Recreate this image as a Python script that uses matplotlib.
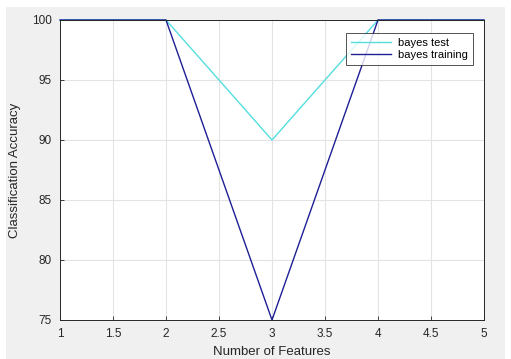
import numpy as np
import matplotlib.pyplot as plt
from matplotlib.patches import Rectangle

features = [1, 2, 3, 4, 5]
bayes_test = [100, 100, 90, 100, 100]
bayes_training = [100, 100, 75, 100, 100]

plt.rcParams['font.family'] = ['Liberation Sans', 'DejaVu Sans']

fig = plt.figure(figsize=(5.11, 3.59), dpi=100, facecolor='white')
# grey panel like the MATLAB figure window
fig.patches.append(Rectangle((6 / 511, 0), 499 / 511, 1 - 7 / 359,
                             transform=fig.transFigure, facecolor='#f0f0f0',
                             edgecolor='none', zorder=-10))
ax = fig.add_axes([60 / 511, 1 - 320 / 359, 424 / 511, 300 / 359])

ax.plot(features, bayes_test, color='#55dede', lw=1.0, label='bayes test', clip_on=False)
ax.plot(features, bayes_training, color='#1f1f96', lw=1.0, label='bayes training', clip_on=False)

ax.set_xlim(1, 5)
ax.set_ylim(75, 100)
ax.set_xticks(np.arange(1, 5.01, 0.5))
ax.set_xticklabels(['1', '1.5', '2', '2.5', '3', '3.5', '4', '4.5', '5'])
ax.set_yticks([75, 80, 85, 90, 95, 100])
ax.grid(True, color='#e3e3e3', lw=0.8)
ax.tick_params(direction='in', length=3, labelsize=8.5, colors='#262626', width=0.6)
ax.tick_params(axis='x', pad=6)
ax.tick_params(axis='y', pad=6)
for s in ax.spines.values():
    s.set_color('#262626')
    s.set_linewidth(0.7)

ax.set_xlabel('Number of Features', fontsize=9.5, color='#262626', labelpad=4)
ax.set_ylabel('Classification Accuracy', fontsize=9.5, color='#262626', labelpad=8)

leg = ax.legend(loc='upper right', bbox_to_anchor=(0.973, 0.957), fontsize=8,
                frameon=True, fancybox=False, handlelength=3.6, borderpad=0.45,
                labelspacing=0.2, handletextpad=0.6, borderaxespad=0)
leg.get_frame().set_edgecolor('#262626')
leg.get_frame().set_linewidth(0.7)

fig.savefig('out.png', dpi=100, facecolor=fig.get_facecolor())
